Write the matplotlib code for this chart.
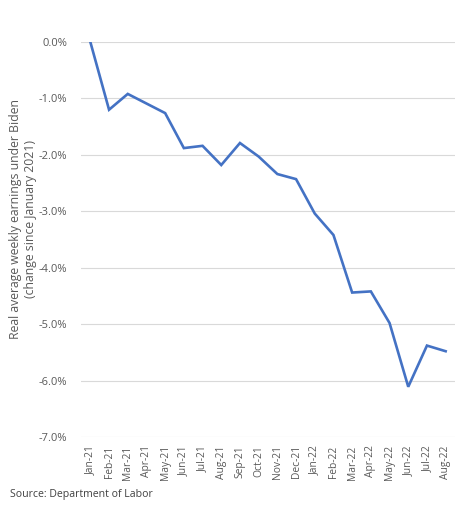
import matplotlib
matplotlib.use("Agg")
import matplotlib.pyplot as plt
from matplotlib.ticker import FuncFormatter, MultipleLocator

months = ["Jan-21", "Feb-21", "Mar-21", "Apr-21", "May-21", "Jun-21", "Jul-21",
          "Aug-21", "Sep-21", "Oct-21", "Nov-21", "Dec-21", "Jan-22", "Feb-22",
          "Mar-22", "Apr-22", "May-22", "Jun-22", "Jul-22", "Aug-22"]
change_pct = [0.0, -1.20, -0.92, -1.09, -1.26, -1.88, -1.84, -2.18, -1.79, -2.03,
              -2.34, -2.43, -3.04, -3.42, -4.44, -4.42, -4.98, -6.11, -5.38, -5.48]

plt.rcParams['font.family'] = ['Open Sans', 'DejaVu Sans']
gray = '#595959'

fig = plt.figure(figsize=(4.74, 5.08), dpi=100)
ax = fig.add_axes([81/474, 1-437/508, (455-81)/474, (437-42)/508])

x = list(range(len(months)))
ax.plot(x, change_pct, color='#4472C4', linewidth=1.9, solid_joinstyle='miter')

ax.set_xlim(-0.5, len(months) - 0.5)
ax.set_ylim(-7.0, 0.0)
ax.yaxis.set_major_locator(MultipleLocator(1.0))
ax.yaxis.set_major_formatter(FuncFormatter(lambda v, p: f"{v:.1f}%"))
ax.grid(axis='y', color='#D9D9D9', linewidth=0.8)
ax.set_axisbelow(True)
for s in ax.spines.values():
    s.set_visible(False)
ax.set_xticks(x)
ax.set_xticklabels(months, rotation=90, fontsize=7.4, color=gray)
ax.tick_params(axis='both', length=0, labelcolor=gray)
ax.tick_params(axis='y', labelsize=8, pad=10)
ax.tick_params(axis='x', pad=6)
ax.set_ylabel("Real average weekly earnings under Biden\n(change since January 2021)",
              fontsize=8.8, color=gray, linespacing=1.15)
ax.yaxis.set_label_coords(-0.118, 0.552)

fig.text(10/474, 1-494/508, "Source: Department of Labor", fontsize=7.6,
         color='#404040', va='center', ha='left')

fig.savefig("out.png", dpi=100)
